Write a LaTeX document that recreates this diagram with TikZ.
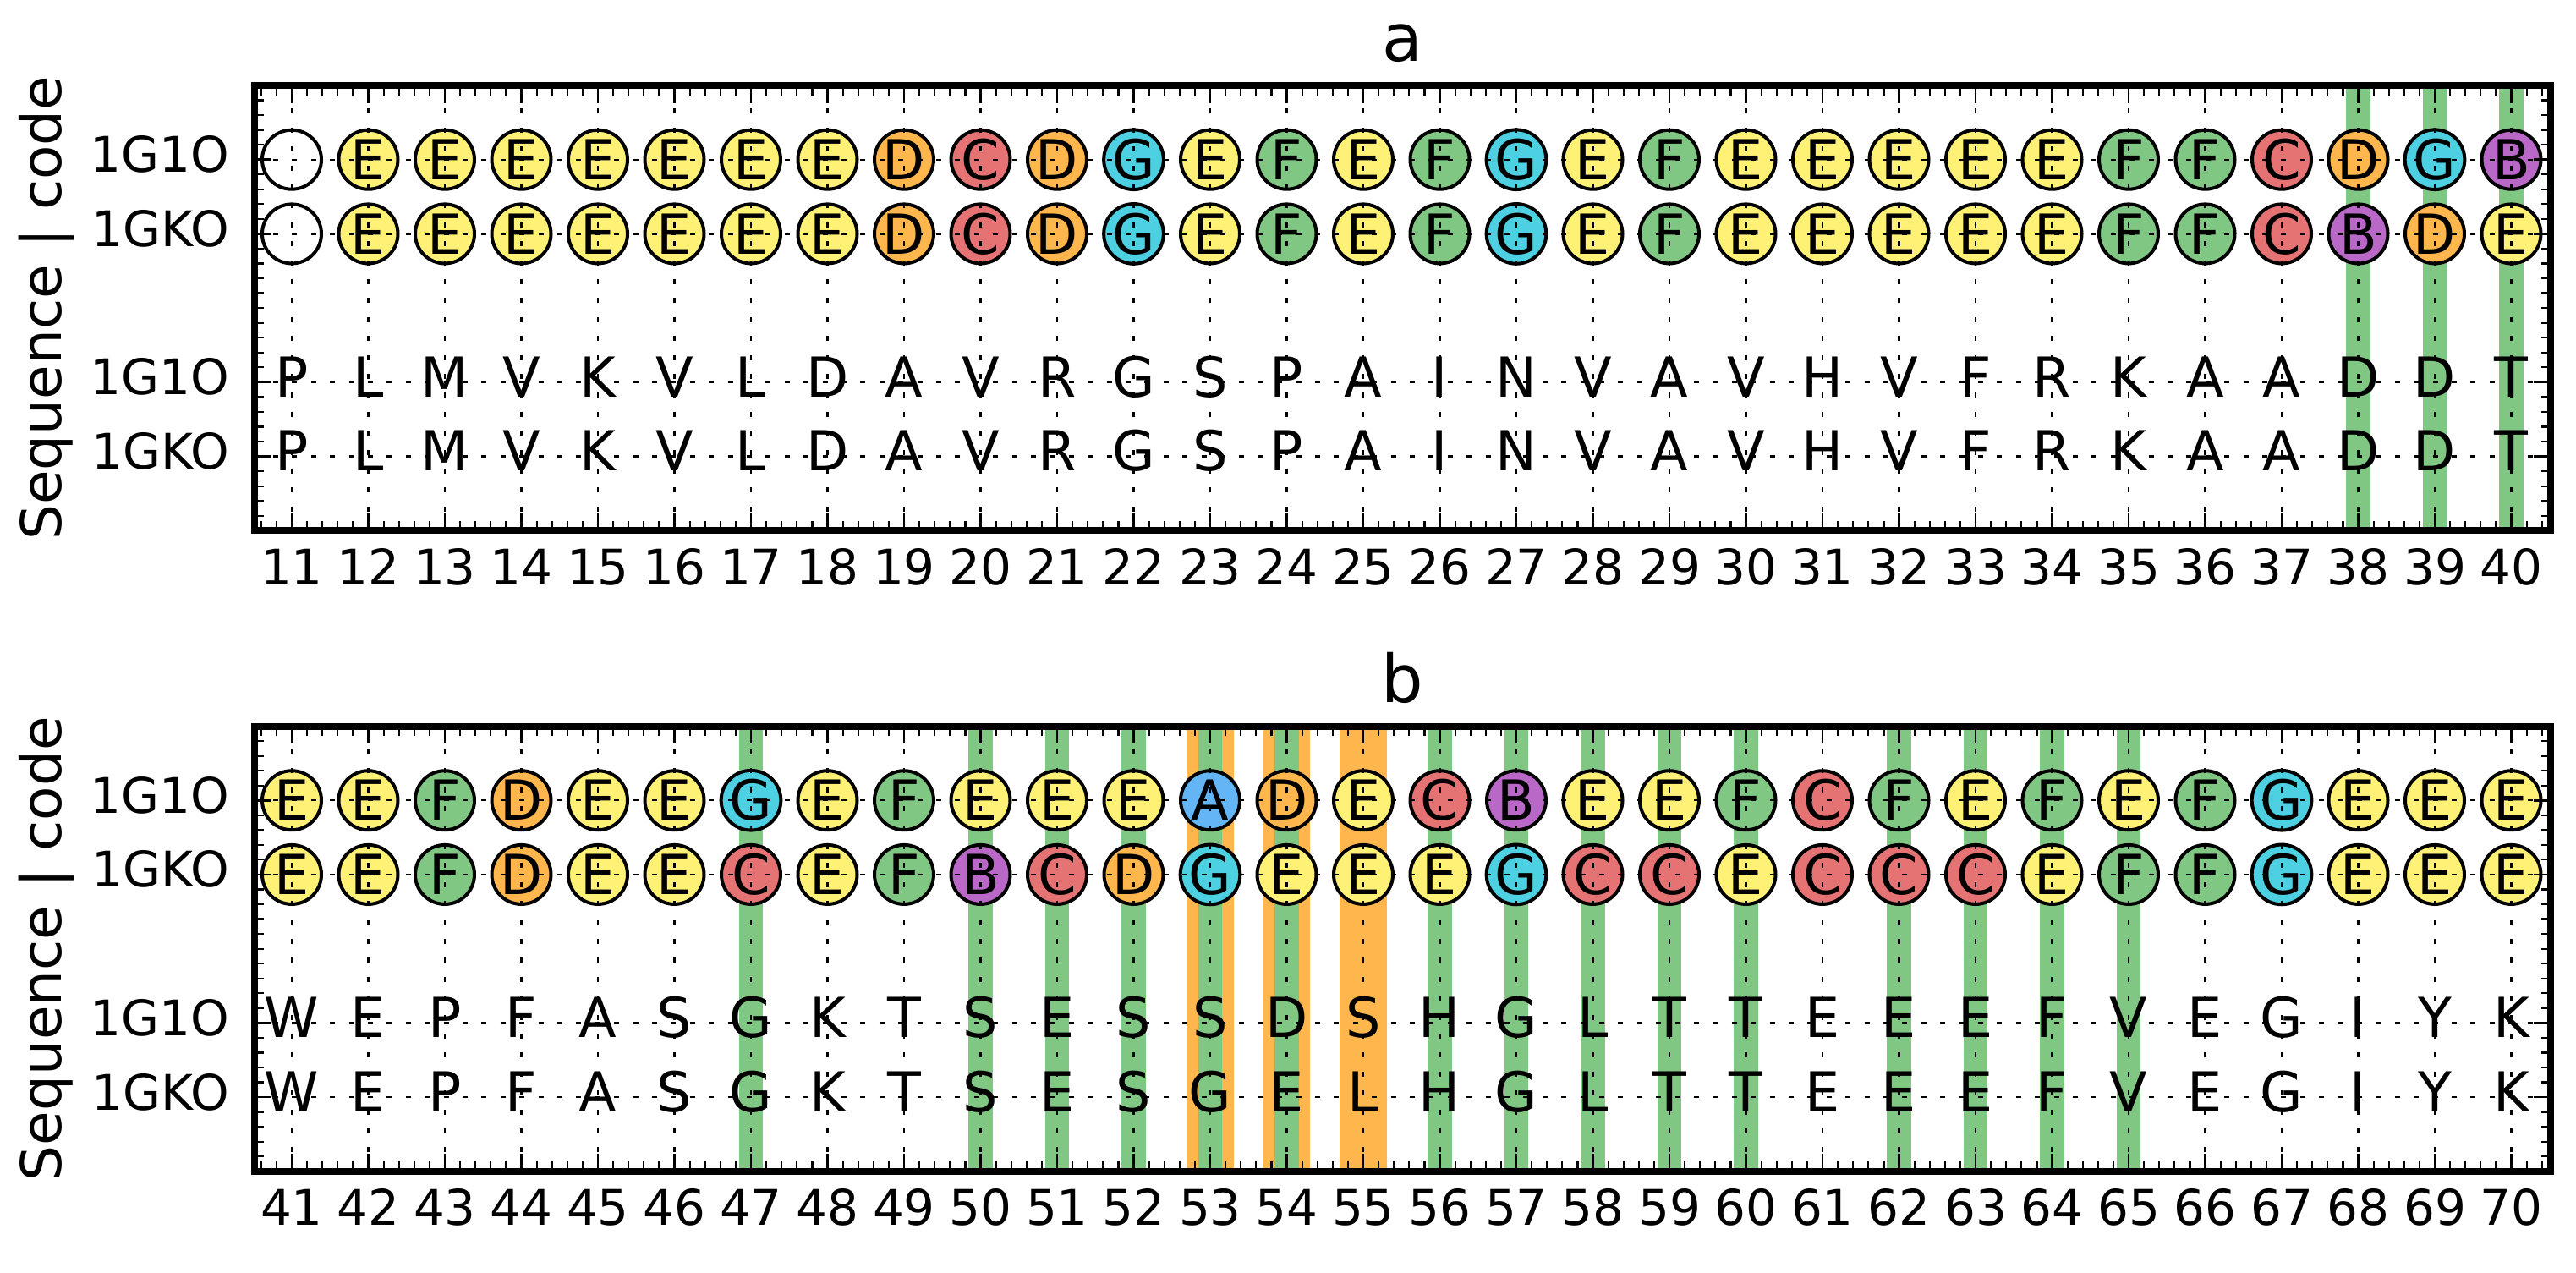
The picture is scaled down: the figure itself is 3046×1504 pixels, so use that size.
\documentclass[tikz,border=0pt]{standalone}
\usepackage{fontspec}
\setmainfont{DejaVu Sans}
\definecolor{cA}{HTML}{64B5F6}
\definecolor{cB}{HTML}{BA68C8}
\definecolor{cC}{HTML}{E57373}
\definecolor{cD}{HTML}{FFB74D}
\definecolor{cE}{HTML}{FFF176}
\definecolor{cF}{HTML}{81C784}
\definecolor{cG}{HTML}{4DD0E1}
\definecolor{cN}{HTML}{FFFFFF}
\definecolor{bandG}{HTML}{81C784}
\definecolor{bandO}{HTML}{FFB74D}
\def\lblA{A}\def\lblB{B}\def\lblC{C}\def\lblD{D}\def\lblE{E}\def\lblF{F}\def\lblG{G}\def\lblN{}
\tikzset{
  mk/.style={circle, draw=black, line width=1pt, minimum size=17.5pt, inner sep=0pt,
             font=\fontsize{16.3}{16.3}\selectfont},
  seqlet/.style={anchor=base, inner sep=0pt, font=\fontsize{16.3}{16.3}\selectfont},
  xticklab/.style={anchor=base, inner sep=0pt, font=\fontsize{14.5}{14.5}\selectfont},
  yticklab/.style={anchor=base east, inner sep=0pt, font=\fontsize{14.5}{14.5}\selectfont},
  axlabel/.style={rotate=90, anchor=base, inner sep=0pt, font=\fontsize{16.5}{16.5}\selectfont},
  paneltitle/.style={anchor=base, inner sep=0pt, font=\fontsize{19.5}{19.5}\selectfont},
  gridln/.style={line width=0.6pt, dash pattern=on 1.5pt off 4.1pt},
  framebox/.style={line width=2pt},
  majtick/.style={line width=0.65pt},
  mintick/.style={line width=0.55pt},
}
% #1 top y, #2 title/prefix, #3 first residue, #4 codes 1G1O, #5 codes 1GKO, #6 seq 1G1O, #7 seq 1GKO
\newcommand\drawpanel[7]{%
  % code circles
  \foreach \cd [count=\kk from 0] in {#4}
    \node[mk, fill=c\cd] (#2-c1-\kk) at ({345+\kk*90.5},{#1+87.7}) {\csname lbl\cd\endcsname};
  \foreach \cd [count=\kk from 0] in {#5}
    \node[mk, fill=c\cd] (#2-c2-\kk) at ({345+\kk*90.5},{#1+175.4}) {\csname lbl\cd\endcsname};
  % sequence letters
  \foreach \sq [count=\kk from 0] in {#6}
    \node[seqlet] (#2-s1-\kk) at ({345+\kk*90.5},{#1+368.1}) {\sq};
  \foreach \sq [count=\kk from 0] in {#7}
    \node[seqlet] (#2-s2-\kk) at ({345+\kk*90.5},{#1+455.8}) {\sq};
  % grid
  \foreach \kk in {0,...,29}
    \draw[gridln] ({345+\kk*90.5},{#1+526.2}) -- ({345+\kk*90.5},{#1});
  \foreach \rr in {87.7,175.4,350.8,438.5}
    \draw[gridln] (300.5,{#1+\rr}) -- (3016,{#1+\rr});
  % x ticks
  \foreach \kk in {0,...,29} {
    \draw[majtick] ({345+\kk*90.5},{#1+526.2}) -- ++(0,-20.5);
    \draw[majtick] ({345+\kk*90.5},{#1}) -- ++(0,20.5);
  }
  \foreach \ii in {0,...,149} {
    \draw[mintick] ({308.8+\ii*18.1},{#1+526.2}) -- ++(0,-11.5);
    \draw[mintick] ({308.8+\ii*18.1},{#1}) -- ++(0,11.5);
  }
  % y ticks
  \foreach \rr in {87.7,175.4,350.8,438.5} {
    \draw[majtick] (300.5,{#1+\rr}) -- ++(20.5,0);
    \draw[majtick] (3016,{#1+\rr}) -- ++(-20.5,0);
  }
  \foreach \jj in {1,...,29} {
    \draw[mintick] (300.5,{#1+\jj*17.54}) -- ++(11.5,0);
    \draw[mintick] (3016,{#1+\jj*17.54}) -- ++(-11.5,0);
  }
  % frame
  \draw[framebox] (300.5,{#1}) rectangle (3016,{#1+526.2});
  % x tick labels
  \foreach \kk in {0,...,29}
    \node[xticklab] (#2-xl-\kk) at ({345+\kk*90.5},{#1+590}) {\number\numexpr#3+\kk\relax};
  % y tick labels
  \node[yticklab] (#2-yl1) at (272,{#1+102.7}) {1G1O};
  \node[yticklab] (#2-yl2) at (272,{#1+190.4}) {1GKO};
  \node[yticklab] (#2-yl3) at (272,{#1+365.8}) {1G1O};
  \node[yticklab] (#2-yl4) at (272,{#1+453.5}) {1GKO};
  % axis label and title
  \node[axlabel] (#2-ylab) at (72,{#1+263.1}) {Sequence | code};
  \node[paneltitle] (#2-title) at (1658,{#1-28.3}) {#2};
}
\begin{document}
\begin{tikzpicture}[x=0.25pt,y=-0.25pt]
\useasboundingbox (0,0) rectangle (3046,1504);
% ---- panel a ----
\foreach \n in {38,39,40}
  \fill[bandG] ({345+(\n-11)*90.5-14.3},101) rectangle ({345+(\n-11)*90.5+14.3},627.2);
\drawpanel{101}{a}{11}%
 {N,E,E,E,E,E,E,E,D,C,D,G,E,F,E,F,G,E,F,E,E,E,E,E,F,F,C,D,G,B}%
 {N,E,E,E,E,E,E,E,D,C,D,G,E,F,E,F,G,E,F,E,E,E,E,E,F,F,C,B,D,E}%
 {P,L,M,V,K,V,L,D,A,V,R,G,S,P,A,I,N,V,A,V,H,V,F,R,K,A,A,D,D,T}%
 {P,L,M,V,K,V,L,D,A,V,R,G,S,P,A,I,N,V,A,V,H,V,F,R,K,A,A,D,D,T}
% ---- panel b ----
\foreach \n in {53,54,55}
  \fill[bandO] ({345+(\n-41)*90.5-27.8},858.5) rectangle ({345+(\n-41)*90.5+27.8},1384.7);
\foreach \n in {47,50,51,52,53,54,56,57,58,59,60,62,63,64,65}
  \fill[bandG] ({345+(\n-41)*90.5-14.3},858.5) rectangle ({345+(\n-41)*90.5+14.3},1384.7);
\drawpanel{858.5}{b}{41}%
 {E,E,F,D,E,E,G,E,F,E,E,E,A,D,E,C,B,E,E,F,C,F,E,F,E,F,G,E,E,E}%
 {E,E,F,D,E,E,C,E,F,B,C,D,G,E,E,E,G,C,C,E,C,C,C,E,F,F,G,E,E,E}%
 {W,E,P,F,A,S,G,K,T,S,E,S,S,D,S,H,G,L,T,T,E,E,E,F,V,E,G,I,Y,K}%
 {W,E,P,F,A,S,G,K,T,S,E,S,G,E,L,H,G,L,T,T,E,E,E,F,V,E,G,I,Y,K}
\end{tikzpicture}
\end{document}
